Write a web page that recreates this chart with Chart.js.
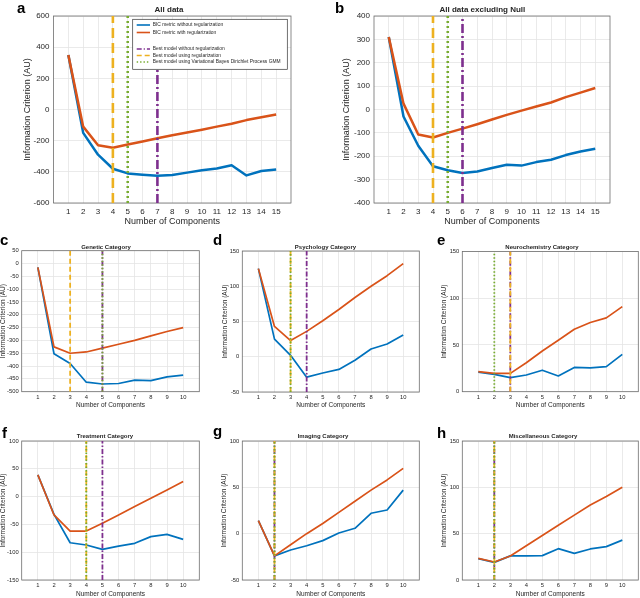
<!DOCTYPE html>
<html>
<head>
<meta charset="utf-8">
<script src="https://cdn.jsdelivr.net/npm/chart.js@4/dist/chart.umd.min.js"></script>
<style>
  body { margin: 0; width: 640px; height: 598px; position: relative; background: #fff; overflow: hidden;
         font-family: "Liberation Sans", Arial, Helvetica, sans-serif; color: #000; }
  canvas { position: absolute; }
</style>
</head>
<body>
<script>
// component counts
const compsAll = [1, 2, 3, 4, 5, 6, 7, 8, 9, 10, 11, 12, 13, 14, 15];
const compsCat = [1, 2, 3, 4, 5, 6, 7, 8, 9, 10];

// BIC without / with regularization
const allNoReg  = [350, -150, -290, -380, -410, -418, -425, -420, -405, -390, -378, -358, -423, -395, -385];
const allReg    = [350, -110, -230, -245, -225, -205, -185, -165, -148, -130, -110, -92, -68, -50, -32];
const exclNoReg = [310, -30, -155, -243, -260, -272, -265, -250, -236, -240, -225, -215, -195, -180, -168];
const exclReg   = [310, 25, -107, -120, -100, -82, -63, -43, -23, -5, 13, 30, 53, 72, 92];

const genNoReg = [-15, -352, -390, -463, -470, -468, -455, -457, -442, -435];
const genReg   = [-15, -325, -350, -345, -330, -315, -300, -282, -265, -250];
const psyNoReg = [125, 25, 2, -29, -23, -18, -5, 11, 18, 31];
const psyReg   = [125, 43, 23, 36, 51, 67, 84, 100, 115, 132];
const neuNoReg = [21, 18.6, 15, 17.9, 23, 16.8, 26, 25.4, 26.8, 40];
const neuReg   = [21.4, 19.6, 19.6, 31, 43.5, 55, 66.8, 74, 79, 91];
const treNoReg = [39, -32, -83, -87, -95, -89, -84, -72, -68, -77];
const treReg   = [39, -33, -62, -62, -48, -33, -18, -3, 12, 27];
const imgNoReg = [14, -24, -17.6, -13, -7.5, 0.7, 5.8, 22, 25.5, 47];
const imgReg   = [14, -24, -12, 0, 11, 23, 35, 47, 58, 70.5];
const misNoReg = [23, 19, 26, 26, 26.3, 33.8, 28.8, 33.5, 36, 43];
const misReg   = [23.4, 19.4, 25.9, 37, 48, 59, 70, 81, 90, 100];

// best model: [without regularization, using regularization, VB DP-GMM]
const bestAll  = [7, 4, 5];
const bestExcl = [6, 4, 5];
const bestGen  = [5, 3, 5];
const bestPsy  = [4, 3, 3];
const bestNeu  = [3, 3, 2];
const bestTre  = [5, 4, 4];
const bestImg  = [2, 2, 2];
const bestMis  = [2, 2, 2];

const legendLabels = [
  'BIC metric without regularization',
  'BIC metric with regularization',
  'Best model without regularization',
  'Best model using regularization',
  'Best model using Variational Bayes Dirichlet Process GMM'
];

const BLUE = '#0072BD', ORANGE = '#D95319', PURPLE = '#7E2F8E', YELLOW = '#EDB120', GREEN = '#77AC30';
const FONT = '"Liberation Sans", Arial, Helvetica, sans-serif';
const TXT = '#262626';

const big = { tick: 8, title: 9, lw: 2.5, vlw: 2.6, dash: [10, 5], dashdot: [9, 3, 2, 3], dot: [2, 3], xpad: 3.5, ypad: 4 };
const small = { tick: 5.8, title: 6.5, lw: 1.7, vlw: 1.8, dash: [5, 3], dashdot: [5, 2, 1.5, 2], dot: [1.5, 2], xpad: 2, ypad: 3 };

const panels = [
  { L: 53.5, T: 16, R: 291, B: 203, yt: 27.3, xt: 221.7, xmax: 16, ymin: -600, ymax: 600, step: 200, xs: compsAll, noReg: allNoReg, reg: allReg, best: bestAll, st: big, legend: true },
  { L: 374, T: 16, R: 610, B: 203, yt: 346.7, xt: 221.7, xmax: 16, ymin: -400, ymax: 400, step: 100, xs: compsAll, noReg: exclNoReg, reg: exclReg, best: bestExcl, st: big },
  { L: 21.7, T: 250.7, R: 199.3, B: 391.7, yt: 3.3, xt: 405.3, xmax: 11, ymin: -500, ymax: 50, step: 50, xs: compsCat, noReg: genNoReg, reg: genReg, best: bestGen, st: small },
  { L: 242.3, T: 251, R: 419.3, B: 392, yt: 225, xt: 405.3, xmax: 11, ymin: -50, ymax: 150, step: 50, xs: compsCat, noReg: psyNoReg, reg: psyReg, best: bestPsy, st: small },
  { L: 462.3, T: 251.5, R: 638.3, B: 391.7, yt: 444, xt: 405.3, xmax: 11, ymin: 0, ymax: 150, step: 50, xs: compsCat, noReg: neuNoReg, reg: neuReg, best: bestNeu, st: small },
  { L: 21.7, T: 441, R: 199.3, B: 580, yt: 3.3, xt: 594, xmax: 11, ymin: -150, ymax: 100, step: 50, xs: compsCat, noReg: treNoReg, reg: treReg, best: bestTre, st: small },
  { L: 242.3, T: 441, R: 419.3, B: 580, yt: 224, xt: 594, xmax: 11, ymin: -50, ymax: 100, step: 50, xs: compsCat, noReg: imgNoReg, reg: imgReg, best: bestImg, st: small },
  { L: 462.3, T: 441, R: 638.3, B: 580, yt: 444, xt: 594, xmax: 11, ymin: 0, ymax: 150, step: 50, xs: compsCat, noReg: misNoReg, reg: misReg, best: bestMis, st: small }
];

// box round the axes
const frame = {
  id: 'frame',
  beforeDatasetsDraw(chart) {
    const { ctx, chartArea: a } = chart;
    ctx.save();
    ctx.strokeStyle = '#6e6e6e';
    ctx.lineWidth = 0.8;
    ctx.strokeRect(a.left, a.top, a.right - a.left, a.bottom - a.top);
    ctx.restore();
  }
};

// legend box of panel a (has an empty row, so drawn by hand)
const boxLegend = {
  id: 'boxLegend',
  afterDraw(chart) {
    if (!chart.options.plugins.boxLegend.show) return;
    const { ctx, chartArea: a } = chart;
    const w = 154.6, h = 50;
    const x0 = a.right - 3.7 - w, y0 = a.top + 3.3;
    ctx.save();
    ctx.fillStyle = '#fff';
    ctx.fillRect(x0, y0, w, h);
    ctx.strokeStyle = '#333';
    ctx.lineWidth = 0.7;
    ctx.strokeRect(x0, y0, w, h);
    const rows = [
      { y: 5.7, c: BLUE, d: [], lw: 1.6 },
      { y: 13.2, c: ORANGE, d: [], lw: 1.6 },
      { y: 29.7, c: PURPLE, d: [5, 2, 1.2, 2], lw: 1.6 },
      { y: 36.2, c: YELLOW, d: [5, 3], lw: 1.6 },
      { y: 42.7, c: GREEN, d: [1.4, 2], lw: 1.6 }
    ];
    ctx.font = '4.9px ' + FONT;
    ctx.textBaseline = 'middle';
    rows.forEach((r, i) => {
      ctx.strokeStyle = r.c;
      ctx.lineWidth = r.lw;
      ctx.setLineDash(r.d);
      ctx.beginPath();
      ctx.moveTo(x0 + 4, y0 + r.y);
      ctx.lineTo(x0 + 17.3, y0 + r.y);
      ctx.stroke();
      ctx.fillStyle = TXT;
      ctx.fillText(legendLabels[i], x0 + 20, y0 + r.y);
    });
    ctx.restore();
  }
};

function vline(x, p, color, dash, order) {
  return {
    data: [{ x: x, y: p.ymin }, { x: x, y: p.ymax }],
    borderColor: color, borderWidth: p.st.vlw, borderDash: dash, borderCapStyle: 'butt',
    pointRadius: 0, order: order
  };
}

function series(p, vals, color, order) {
  return {
    data: p.xs.map((x, i) => ({ x: x, y: vals[i] })),
    borderColor: color, borderWidth: p.st.lw, pointRadius: 0, tension: 0,
    borderJoinStyle: 'round', order: order
  };
}

panels.forEach(p => {
  const st = p.st;
  const lh = st.title * 1.2;
  const left = Math.round(p.yt - lh / 2);
  const top = Math.round(p.T - 10);
  const wy = p.L - left;
  const hx = p.xt + lh / 2 - p.B;
  const width = Math.ceil(p.R - left + 2);
  const height = Math.ceil(p.B + hx - top);
  const pad = { left: 0, top: p.T - top, right: width - (p.R - left), bottom: height - (p.B + hx - top) };

  const cv = document.createElement('canvas');
  cv.width = width; cv.height = height;
  cv.style.left = left + 'px'; cv.style.top = top + 'px';
  cv.style.width = width + 'px'; cv.style.height = height + 'px';
  document.body.appendChild(cv);

  new Chart(cv, {
    type: 'line',
    data: {
      datasets: [
        series(p, p.noReg, BLUE, 5),
        series(p, p.reg, ORANGE, 4),
        vline(p.best[0], p, PURPLE, st.dashdot, 3),
        vline(p.best[1], p, YELLOW, st.dash, 2),
        vline(p.best[2], p, GREEN, st.dot, 1)
      ]
    },
    options: {
      responsive: false, animation: false, devicePixelRatio: 1,
      layout: { padding: pad },
      plugins: { legend: { display: false }, tooltip: { enabled: false }, boxLegend: { show: !!p.legend } },
      scales: {
        x: {
          type: 'linear', min: 0, max: p.xmax,
          afterBuildTicks: s => { s.ticks = p.xs.map(v => ({ value: v })); },
          afterFit: s => { s.height = hx; },
          grid: { color: '#e4e4e4', lineWidth: 0.8, drawTicks: false },
          border: { display: false },
          ticks: { font: { family: FONT, size: st.tick }, color: TXT, padding: st.xpad, maxRotation: 0, autoSkip: false },
          title: { display: true, text: 'Number of Components', font: { family: FONT, size: st.title }, color: TXT, padding: 0 }
        },
        y: {
          min: p.ymin, max: p.ymax,
          afterFit: s => { s.width = wy; },
          grid: { color: '#e4e4e4', lineWidth: 0.8, drawTicks: false },
          border: { display: false },
          ticks: { stepSize: p.step, font: { family: FONT, size: st.tick }, color: TXT, padding: st.ypad },
          title: { display: true, text: 'Information Criterion (AU)', font: { family: FONT, size: st.title }, color: TXT, padding: 0 }
        }
      }
    },
    plugins: [frame, boxLegend]
  });
});

// panel letters and titles
function addText(txt, x, base, size, bold, centre) {
  const d = document.createElement('div');
  d.textContent = txt;
  d.style.cssText = 'position:absolute;white-space:nowrap;left:' + x + 'px;top:' + (base - 0.847 * size) + 'px;' +
    'font-size:' + size + 'px;line-height:' + size + 'px;font-weight:' + (bold ? 'bold' : 'normal') + ';' +
    (centre ? 'transform:translateX(-50%);' : '') + 'color:' + (centre ? TXT : '#000');
  document.body.appendChild(d);
}
addText('a', 17, 12.5, 15, true);
addText('b', 335, 12.5, 15, true);
addText('c', 0, 245, 15, true);
addText('d', 213, 245, 15, true);
addText('e', 437, 245, 15, true);
addText('f', 2, 437.8, 15, true);
addText('g', 213, 436, 15, true);
addText('h', 437, 437.5, 15, true);

addText('All data', 169, 13.2, 8, true, true);
addText('All data excluding Null', 482.4, 13, 8, true, true);
addText('Genetic Category', 106, 248.8, 6, true, true);
addText('Psychology Category', 325.5, 248.8, 6, true, true);
addText('Neurochemistry Category', 542, 248.8, 6, true, true);
addText('Treatment Category', 105, 437.8, 6, true, true);
addText('Imaging Category', 323, 437.8, 6, true, true);
addText('Miscellaneous Category', 543, 437.8, 6, true, true);
</script>
</body>
</html>
